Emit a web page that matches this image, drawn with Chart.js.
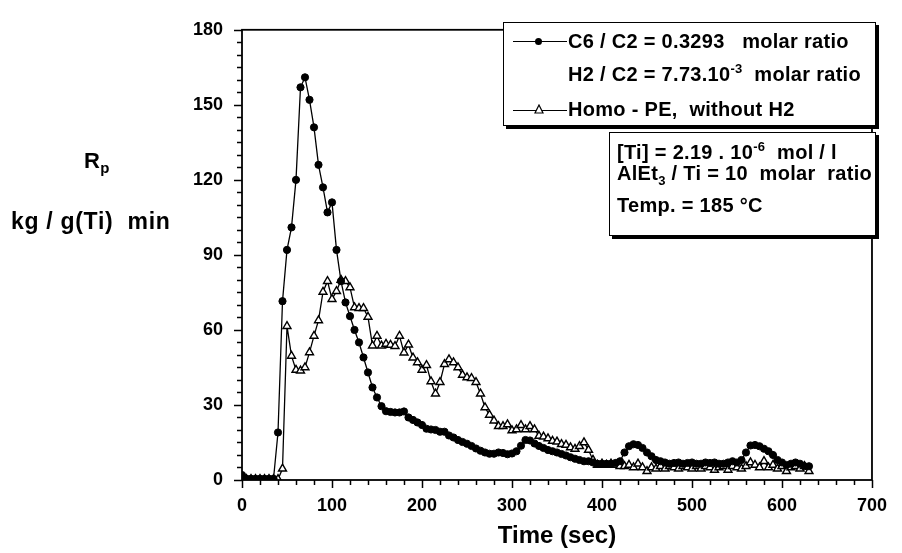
<!DOCTYPE html>
<html>
<head>
<meta charset="utf-8">
<script src="https://cdn.jsdelivr.net/npm/chart.js@4.4.1/dist/chart.umd.min.js"></script>
<style>
  body { margin: 0; background: #fff; }
  #wrap { position: relative; width: 902px; height: 553px; font-family: 'Liberation Sans', Arial, sans-serif; color: #000; }
  #chart { position: absolute; left: 0; top: 0; }
  .t { position: absolute; white-space: pre; font-size: 20px; line-height: 20px; font-weight: bold; letter-spacing: 0.3px; }
  .box { position: absolute; background: #fff; border: 1.5px solid #000; box-shadow: 3px 3px 0 #000; }
  .mk-line { position: absolute; height: 0; border-top: 1.3px solid #000; }
  .dot { position: absolute; width: 7px; height: 7px; border-radius: 50%; background: #000; }
  sup, sub { font-size: 13px; line-height: 0; }
</style>
</head>
<body>
<div id="wrap">
  <canvas id="chart" width="902" height="553"></canvas>

  <div class="box" style="left:503px; top:22px; width:371px; height:102px;"></div>
  <div class="mk-line" style="left:513px; top:41px; width:54px;"></div>
  <div class="dot" style="left:535px; top:38px;"></div>
  <div class="t" style="left:568px; top:31px;">C6 / C2 = 0.3293   molar ratio</div>
  <div class="t" style="left:568px; top:64px;">H2 / C2 = 7.73.10<sup>-3</sup>  molar ratio</div>
  <div class="mk-line" style="left:513px; top:110px; width:54px;"></div>
  <svg style="position:absolute; left:534px; top:104px;" width="10" height="10"><polygon points="5,1 9,9 1,9" fill="#fff" stroke="#000" stroke-width="1.2"/></svg>
  <div class="t" style="left:568px; top:99px;">Homo - PE,  without H2</div>

  <div class="box" style="left:609px; top:132px; width:265px; height:102px;"></div>
  <div class="t" style="left:617px; top:142px;">[Ti] = 2.19 . 10<sup>-6</sup>  mol / l</div>
  <div class="t" style="left:617px; top:163px;">AlEt<sub>3</sub> / Ti = 10  molar  ratio</div>
  <div class="t" style="left:617px; top:195px;">Temp. = 185 °C</div>

  <div class="t" style="left:84px; top:150px; font-size:22px; line-height:22px;">R<sub style="font-size:15px;">p</sub></div>
  <div class="t" style="left:11px; top:210px; font-size:23px; line-height:22px; letter-spacing:0.7px;">kg / g(Ti)  min</div>
</div>
<script>
// time axis (sec), one sample every 5 s
const times = [
  0, 5, 10, 15, 20, 25, 30, 35, 40, 45,
  50, 55, 60, 65, 70, 75, 80, 85, 90, 95,
  100, 105, 110, 115, 120, 125, 130, 135, 140, 145,
  150, 155, 160, 165, 170, 175, 180, 185, 190, 195,
  200, 205, 210, 215, 220, 225, 230, 235, 240, 245,
  250, 255, 260, 265, 270, 275, 280, 285, 290, 295,
  300, 305, 310, 315, 320, 325, 330, 335, 340, 345,
  350, 355, 360, 365, 370, 375, 380, 385, 390, 395,
  400, 405, 410, 415, 420, 425, 430, 435, 440, 445,
  450, 455, 460, 465, 470, 475, 480, 485, 490, 495,
  500, 505, 510, 515, 520, 525, 530, 535, 540, 545,
  550, 555, 560, 565, 570, 575, 580, 585, 590, 595,
  600, 605, 610, 615, 620, 625, 630
];

// C6/C2 = 0.3293, H2/C2 = 7.73e-3 (filled circles)
const copolyRp = [
  2, 0.5, 0.5, 0.5, 0.5, 0.5, 0.5, 0.5, 19, 71.5,
  92, 101, 120, 157, 161, 152, 141, 126, 117, 107,
  111, 92, 79.5, 71, 65.5, 60, 55, 49, 43, 37,
  33, 29.5, 27.5, 27.2, 27, 27, 27.4, 25, 24, 23,
  22, 20.5, 20.2, 20, 19.3, 19.3, 17.8, 17, 16, 15.2,
  14.5, 13.6, 12.6, 11.7, 11, 10.5, 10.5, 11, 10.8, 10.3,
  10.6, 11.5, 13.7, 16, 15.8, 14.6, 13.6, 12.8, 12, 11.5,
  11, 10.4, 9.8, 9.1, 8.5, 8, 7.5, 7.5, 7, 6.5,
  6.5, 6.5, 6.5, 6.8, 7.5, 11, 13.5, 14.3, 14, 12.8,
  11, 9.5, 8, 7.5, 7, 6.5, 6.8, 7, 6.5, 6.8,
  7, 6.5, 6.5, 7, 6.8, 7, 6.5, 6.5, 7, 7.5,
  7, 8, 11, 13.8, 14, 13.5, 12.5, 11.5, 10, 8,
  7, 6, 6.5, 7, 6.5, 5.5, 5.5
];

// Homo-PE, without H2 (open triangles)
const homoRp = [
  0.3, 0.3, 0.3, 0.3, 0.3, 0.3, 0.3, 0.3, 0.3, 4.5,
  61.5, 49.6, 44, 43.7, 45, 51, 57.6, 63.8, 75.2, 79.5,
  72.3, 75.5, 80, 79.5, 77, 69, 68.7, 68.7, 65.2, 53.7,
  57.6, 53.7, 54.4, 54, 53.5, 57.6, 50.9, 54.1, 48.9, 47,
  44, 45.9, 39.4, 34.5, 39.1, 46.3, 48.2, 47, 45, 42,
  41, 40.7, 39.1, 34.5, 29, 26, 23.7, 21.5, 21.5, 22.2,
  19.8, 20.2, 21.9, 20.2, 21.5, 20.2, 17.6, 17.3, 16.6, 15.6,
  15.3, 14.3, 14, 13, 12.4, 13.5, 15, 12, 8, 6,
  6.5, 6, 6.5, 6, 5.5, 5.5, 6, 5, 6.5, 5,
  3.5, 5, 4.5, 5.5, 4.5, 5.5, 5, 4.5, 5.5, 5,
  4.5, 5.5, 4.5, 5.5, 5, 4, 5, 5.5, 4, 5.5,
  5, 4.5, 5.5, 7, 6, 5, 7.5, 5, 6, 4.5,
  5.5, 3.5, 5, 5.5, 4.5, 5.5, 3.5
];

const xMin = 0, xMax = 700, xMajor = 100, xMinor = 20;
const yMin = 0, yMax = 180, yMajor = 30, yMinor = 5;

const toPoints = (ys) => times.map((t, i) => ({ x: t, y: ys[i] }));

// frame plus major/minor tick marks drawn outward
const frameTicks = {
  id: 'frameTicks',
  afterDraw(chart) {
    const { ctx, chartArea: a, scales: { x, y } } = chart;
    ctx.save();
    ctx.strokeStyle = '#000';
    ctx.lineWidth = 1.8;
    ctx.strokeRect(a.left, a.top, a.right - a.left, a.bottom - a.top);
    ctx.lineWidth = 1.5;
    ctx.beginPath();
    for (let v = yMin; v <= yMax; v += yMinor) {
      const py = Math.round(y.getPixelForValue(v)) + 0.5;
      const len = v % yMajor === 0 ? 8 : 5;
      ctx.moveTo(a.left - len, py);
      ctx.lineTo(a.left, py);
    }
    for (let v = xMin; v <= xMax; v += xMinor) {
      const px = Math.round(x.getPixelForValue(v)) + 0.5;
      const len = v % xMajor === 0 ? 8 : 5;
      ctx.moveTo(px, a.bottom);
      ctx.lineTo(px, a.bottom + len);
    }
    ctx.stroke();
    ctx.restore();
  }
};

const tickFont = { family: "'Liberation Sans', Arial, sans-serif", size: 18, weight: 'bold' };

new Chart(document.getElementById('chart'), {
  type: 'line',
  data: {
    datasets: [
      {
        label: 'C6 / C2 = 0.3293 molar ratio, H2 / C2 = 7.73.10-3 molar ratio',
        data: toPoints(copolyRp),
        borderColor: '#000',
        borderWidth: 1.3,
        pointStyle: 'circle',
        pointRadius: 3.6,
        pointBackgroundColor: '#000',
        pointBorderColor: '#000',
        pointBorderWidth: 1,
        tension: 0
      },
      {
        label: 'Homo - PE, without H2',
        data: toPoints(homoRp),
        borderColor: '#000',
        borderWidth: 1.3,
        pointStyle: 'triangle',
        pointRadius: 4.6,
        pointBackgroundColor: '#fff',
        pointBorderColor: '#000',
        pointBorderWidth: 1.4,
        tension: 0
      }
    ]
  },
  options: {
    responsive: false,
    animation: false,
    devicePixelRatio: 1,
    layout: { padding: { left: 0, top: 20, right: 24, bottom: 0 } },
    plugins: {
      legend: { display: false },
      tooltip: { enabled: false }
    },
    scales: {
      x: {
        type: 'linear',
        min: xMin,
        max: xMax,
        afterFit: (scale) => { scale.height = 73; },
        grid: { display: false, drawTicks: false },
        border: { display: false },
        ticks: {
          stepSize: xMajor,
          color: '#000',
          font: tickFont,
          padding: 15,
          maxRotation: 0
        },
        title: {
          display: true,
          text: 'Time (sec)',
          color: '#000',
          font: { family: "'Liberation Sans', Arial, sans-serif", size: 24, weight: 'bold' },
          padding: { top: 0, bottom: 2 }
        }
      },
      y: {
        min: yMin,
        max: yMax,
        afterFit: (scale) => { scale.width = 242; },
        grid: { display: false, drawTicks: false },
        border: { display: false },
        ticks: {
          stepSize: yMajor,
          color: '#000',
          font: tickFont,
          padding: 19
        }
      }
    }
  },
  plugins: [frameTicks]
});
</script>
</body>
</html>
